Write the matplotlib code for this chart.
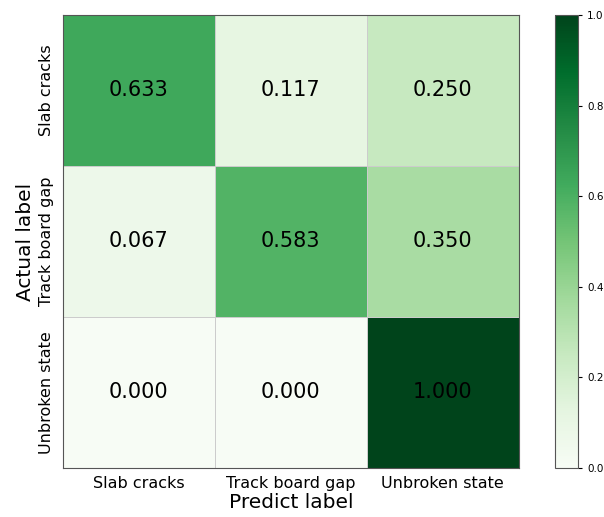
import numpy as np
import matplotlib
matplotlib.use("Agg")
import matplotlib.pyplot as plt

classes = ["Slab cracks", "Track board gap", "Unbroken state"]
row_slab = [0.633, 0.117, 0.250]
row_gap = [0.067, 0.583, 0.350]
row_unbroken = [0.000, 0.000, 1.000]
cbar_ticks = [0.0, 0.2, 0.4, 0.6, 0.8, 1.0]

matrix = np.array([row_slab, row_gap, row_unbroken])

fig = plt.figure(figsize=(6.04, 5.17), dpi=100)
ax = fig.add_axes([0.104, 0.095, 0.755, 0.876])
cax = fig.add_axes([0.919, 0.095, 0.038, 0.876])

mesh = ax.pcolormesh(matrix, cmap="Greens", vmin=0, vmax=1,
                     edgecolors="#cccccc", linewidth=0.5)
ax.set_xlim(0, 3)
ax.set_ylim(3, 0)
ax.set_xticks(np.arange(3) + 0.5)
ax.set_yticks(np.arange(3) + 0.5)
ax.set_xticklabels(classes, fontsize=11.5)
ax.set_yticklabels(classes, fontsize=11.5, rotation=90, va="center")
ax.tick_params(length=0, pad=6)
for s in ax.spines.values():
    s.set_color("#555555")

for i in range(3):
    for j in range(3):
        ax.text(j + 0.5, i + 0.5, f"{matrix[i, j]:.3f}", ha="center",
                va="center", fontsize=15, color="black")

ax.set_xlabel("Predict label", fontsize=14.5, labelpad=1)
ax.set_ylabel("Actual label", fontsize=14.5, labelpad=3)

cb = fig.colorbar(mesh, cax=cax, ticks=cbar_ticks)
cb.ax.tick_params(labelsize=7.5, length=3)
cb.outline.set_edgecolor("#555555")

fig.savefig("out.png", dpi=100)
